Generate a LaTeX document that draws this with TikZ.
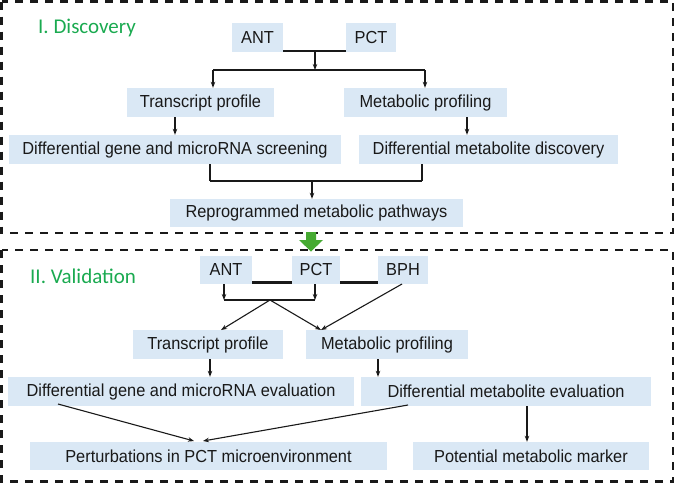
\documentclass[tikz,border=0pt]{standalone}
\usepackage{fontspec}
\setmainfont{Liberation Sans}[FakeStretch=0.94]
\newfontfamily\titlefont{Carlito}
\usetikzlibrary{arrows.meta}
\definecolor{boxblue}{RGB}{218,232,245}
\definecolor{titlegreen}{RGB}{26,170,80}
\definecolor{arrowgreen}{RGB}{70,170,50}
\definecolor{txt}{RGB}{25,25,25}
\tikzset{
  box/.style={rectangle, fill=boxblue, inner sep=0pt, text=txt,
    font=\fontsize{17.4}{19}\selectfont},
  title/.style={anchor=west, inner sep=0pt, text=titlegreen,
    font=\titlefont\fontsize{21}{24}\selectfont},
  arr/.style={line width=1.1pt, draw=txt, -{Stealth[length=6pt,width=4.5pt]}},
  bar/.style={line width=2pt, draw=txt},
  thickbar/.style={line width=2.8pt, draw=txt},
  thinbar/.style={line width=1.4pt, draw=txt},
  frame/.style={line width=2.6pt, draw=black!90, dash pattern=on 8pt off 7pt}
}
\begin{document}
\begin{tikzpicture}[x=1pt,y=-1pt]
\useasboundingbox (0,0) rectangle (676,483);
% frames
\draw[frame] (1.5,1.5) rectangle (673,233);
\draw[frame] (1.5,250) rectangle (673,481.5);
% titles
\node[title] (t1) at (38,28) {I. Discovery};
\node[title] (t2) at (30,276) {II. Validation};
% ---------- Discovery ----------
\node[box, minimum width=51, minimum height=29] (ANT1) at (257.5,37.5) {ANT};
\node[box, minimum width=50, minimum height=29] (PCT1) at (371,37.5) {PCT};
\node[box, minimum width=147, minimum height=29] (TP1) at (200.5,102.5) {Transcript profile};
\node[box, minimum width=163, minimum height=29] (MP1) at (425.5,102.5) {Metabolic profiling};
\node[box, minimum width=332, minimum height=29] (DG1) at (175,149.5) {Differential gene and microRNA screening};
\node[box, minimum width=259, minimum height=29] (DM1) at (488.5,149.5) {Differential metabolite discovery};
\node[box, minimum width=293, minimum height=28] (RP) at (316.5,213) {Reprogrammed metabolic pathways};
\coordinate (j1) at (315,51);
\coordinate (b1L) at (213,70);
\coordinate (b1C) at (315,70);
\coordinate (b1R) at (425,70);
\coordinate (a1) at (175,0);
\coordinate (a2) at (467,0);
\coordinate (b2L) at (210,181);
\coordinate (b2C) at (312,181);
\coordinate (b2R) at (422,181);
\draw[bar] ([yshift=1]ANT1.south east) -- ([yshift=1]PCT1.south west);
\draw[arr] (j1) -- (b1C);
\draw[bar] (b1L) -- (b1R);
\draw[arr] (b1L) -- (b1L |- TP1.north);
\draw[arr] (b1R) -- (b1R |- MP1.north);
\draw[arr] (TP1.south -| a1) -- (DG1.north -| a1);
\draw[arr] (MP1.south -| a2) -- (DM1.north -| a2);
\draw[line width=1.1pt, draw=txt] (DG1.south -| b2L) -- (b2L);
\draw[line width=1.1pt, draw=txt] (DM1.south -| b2R) -- (b2R);
\draw[bar] (b2L) -- (b2R);
\draw[arr] (b2C) -- (b2C |- RP.north);
% green arrow
\fill[arrowgreen] (306,232) -- (316,232) -- (316,240) -- (323,240) -- (311,251.5) -- (299,240) -- (306,240) -- cycle;
% ---------- Validation ----------
\node[box, minimum width=52, minimum height=28] (ANT2) at (226,270) {ANT};
\node[box, minimum width=48, minimum height=28] (PCT2) at (316,270) {PCT};
\node[box, minimum width=50, minimum height=28] (BPH) at (403,270) {BPH};
\node[box, minimum width=150, minimum height=29] (TP2) at (208,344.5) {Transcript profile};
\node[box, minimum width=162, minimum height=29] (MP2) at (387,344.5) {Metabolic profiling};
\node[box, minimum width=346, minimum height=29] (DG2) at (181,391.5) {Differential gene and microRNA evaluation};
\node[box, minimum width=290, minimum height=29] (DM2) at (506,391.5) {Differential metabolite evaluation};
\node[box, minimum width=357, minimum height=28] (PB) at (208.5,456) {Perturbations in PCT microenvironment};
\node[box, minimum width=236, minimum height=28] (PM) at (531,456) {Potential metabolic marker};
\draw[thickbar] ([yshift=1.5]ANT2.south east) -- ([yshift=1.5]PCT2.south west);
\draw[thickbar] ([yshift=1.5]PCT2.south east) -- ([yshift=1.5]BPH.south west);
\coordinate (c1L) at (224,300);
\coordinate (c1R) at (315,300);
\coordinate (c1C) at (270,300);
\coordinate (tpin) at (221,330);
\coordinate (mpin) at (321,330);
\coordinate (bphout) at (402,284);
\coordinate (d1) at (210,0);
\coordinate (d2) at (378,0);
\coordinate (e1) at (58,404);
\coordinate (e2) at (408,405);
\coordinate (pin) at (194,441);
\coordinate (pin2) at (203,441);
\coordinate (d3) at (527,0);
\draw[arr] (ANT2.south -| c1L) -- (c1L);
\draw[arr] (PCT2.south -| c1R) -- (c1R);
\draw[thinbar] (c1L) -- (c1R);
\draw[arr] (c1C) -- (tpin);
\draw[arr] (c1C) -- (mpin);
\draw[arr] (bphout) -- (mpin);
\draw[arr] (TP2.south -| d1) -- (DG2.north -| d1);
\draw[arr] (MP2.south -| d2) -- (DM2.north -| d2);
\draw[arr] (e1) -- (pin);
\draw[arr] (e2) -- (pin2);
\draw[arr] (DM2.south -| d3) -- (PM.north -| d3);
\end{tikzpicture}
\end{document}
